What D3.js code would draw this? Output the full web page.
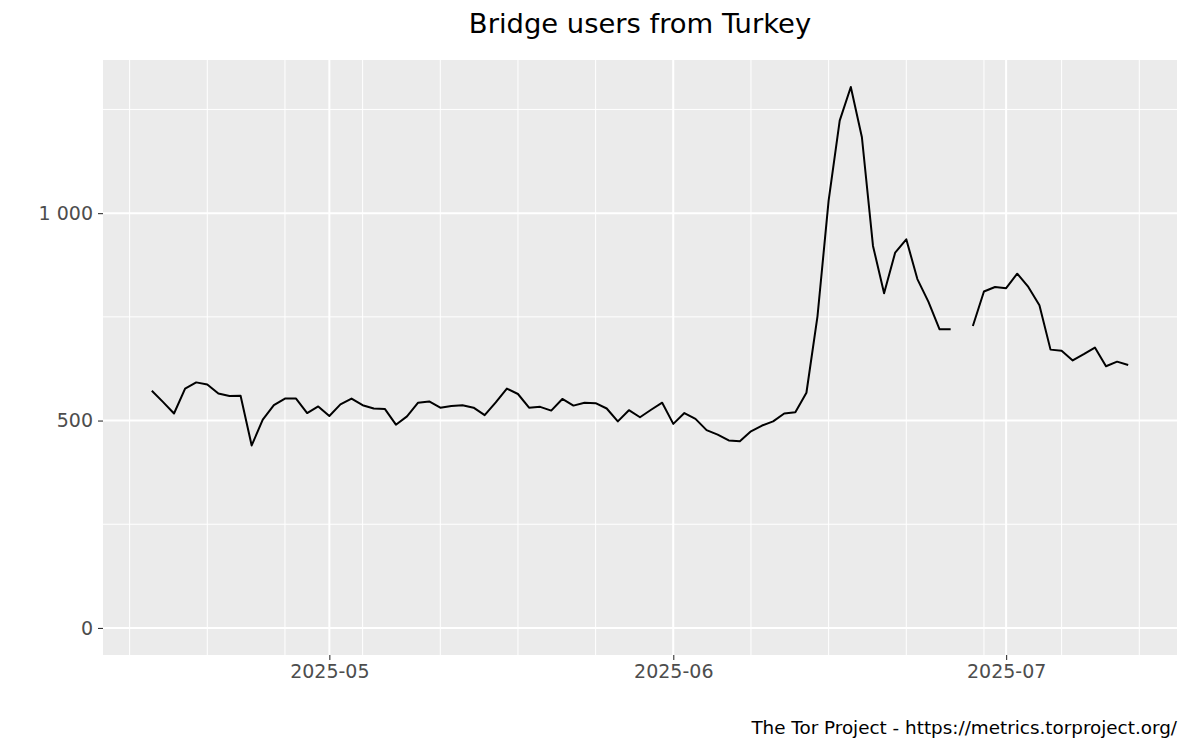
<!DOCTYPE html>
<html>
<head>
<meta charset="utf-8">
<script src="https://cdn.jsdelivr.net/npm/d3@7"></script>
<style>
html, body { margin: 0; padding: 0; background: #ffffff; }
svg { display: block; font-family: "DejaVu Sans", sans-serif; }
</style>
</head>
<body>
<svg id="chart" width="1200" height="750"></svg>
<script>
const startDate = "2025-04-15";
const users = [
  572, 545, 517, 577, 592, 587, 565, 559, 560, 440, 502, 537, 553, 553, 518, 534,
  511, 539, 553, 537, 529, 528, 490, 510, 543, 546, 531, 535, 537, 531, 513, 544,
  577, 564, 531, 533, 524, 552, 536, 543, 542, 529, 498, 525, 508, 526, 543,
  492, 518, 504, 477, 466, 452, 450, 474, 488, 498, 517, 520, 567, 752, 1030,
  1223, 1304, 1183, 921, 807, 905, 937, 841, 786, 720, 720, null, 728, 811, 822,
  819, 854, 822, 778, 671, 668, 645, 660, 676, 631, 642, 634
];
const yTicks = [0, 500, 1000];
const yMinorTicks = [250, 750, 1250];
const xTickLabels = ["2025-05", "2025-06", "2025-07"];
const titleText = "Bridge users from Turkey";
const captionText = "The Tor Project - https://metrics.torproject.org/";

const parse = d3.utcParse("%Y-%m-%d");
const t0 = parse(startDate);
const data = users.map((v, i) => ({ date: d3.utcDay.offset(t0, i), value: v }));

const panel = { left: 103, right: 1177, top: 60, bottom: 655 };
const svg = d3.select("#chart");

const dMin = data[0].date, dMax = data[data.length - 1].date;
const span = dMax - dMin;
const x = d3.scaleUtc()
  .domain([new Date(+dMin - span * 0.05), new Date(+dMax + span * 0.05)])
  .range([panel.left, panel.right]);

const vMax = d3.max(users);
const y = d3.scaleLinear()
  .domain([-vMax * 0.05, vMax * 1.05])
  .range([panel.bottom, panel.top]);

// panel background
svg.append("rect")
  .attr("x", panel.left).attr("y", panel.top)
  .attr("width", panel.right - panel.left).attr("height", panel.bottom - panel.top)
  .attr("fill", "#EBEBEB");

const xMajor = xTickLabels.map(s => d3.utcParse("%Y-%m")(s));
const xMinor = d3.utcSunday.range(x.domain()[0], x.domain()[1]);

const grid = svg.append("g");
// minor grid
grid.selectAll(".ymin").data(yMinorTicks).join("line")
  .attr("x1", panel.left).attr("x2", panel.right)
  .attr("y1", d => y(d)).attr("y2", d => y(d))
  .attr("stroke", "#ffffff").attr("stroke-width", 1);
grid.selectAll(".xmin").data(xMinor).join("line")
  .attr("y1", panel.top).attr("y2", panel.bottom)
  .attr("x1", d => x(d)).attr("x2", d => x(d))
  .attr("stroke", "#ffffff").attr("stroke-width", 1);
// major grid
grid.selectAll(".ymaj").data(yTicks).join("line")
  .attr("x1", panel.left).attr("x2", panel.right)
  .attr("y1", d => y(d)).attr("y2", d => y(d))
  .attr("stroke", "#ffffff").attr("stroke-width", 2);
grid.selectAll(".xmaj").data(xMajor).join("line")
  .attr("y1", panel.top).attr("y2", panel.bottom)
  .attr("x1", d => x(d)).attr("x2", d => x(d))
  .attr("stroke", "#ffffff").attr("stroke-width", 2);

// line
const line = d3.line()
  .defined(d => d.value !== null)
  .x(d => x(d.date))
  .y(d => y(d.value));
svg.append("path")
  .datum(data)
  .attr("d", line)
  .attr("fill", "none")
  .attr("stroke", "#000000")
  .attr("stroke-width", 2)
  .attr("stroke-linejoin", "round");

// axes
const fmtLocale = d3.formatLocale({ decimal: ".", thousands: " ", grouping: [3], currency: ["", ""] });
const yAxis = d3.axisLeft(y).tickValues(yTicks).tickSize(5).tickPadding(5)
  .tickFormat(fmtLocale.format(",d"));
const gy = svg.append("g").attr("transform", `translate(${panel.left},0)`).call(yAxis);
gy.select(".domain").remove();

const xAxis = d3.axisBottom(x).tickValues(xMajor).tickSize(5).tickPadding(5)
  .tickFormat(d3.utcFormat("%Y-%m"));
const gx = svg.append("g").attr("transform", `translate(0,${panel.bottom})`).call(xAxis);
gx.select(".domain").remove();

[gx, gy].forEach(g => {
  g.selectAll(".tick line").attr("stroke", "#333333").attr("stroke-width", 1.1);
  g.selectAll(".tick text").attr("fill", "#4D4D4D")
    .style("font-family", "'DejaVu Sans', sans-serif").style("font-size", "19px");
});

// title
svg.append("text")
  .attr("x", (panel.left + panel.right) / 2).attr("y", 33)
  .attr("text-anchor", "middle")
  .attr("fill", "#000000")
  .style("font-size", "27.4px")
  .text(titleText);

// caption
svg.append("text")
  .attr("x", panel.right).attr("y", 734)
  .attr("text-anchor", "end")
  .attr("fill", "#000000")
  .style("font-size", "18.35px")
  .text(captionText);
</script>
</body>
</html>
